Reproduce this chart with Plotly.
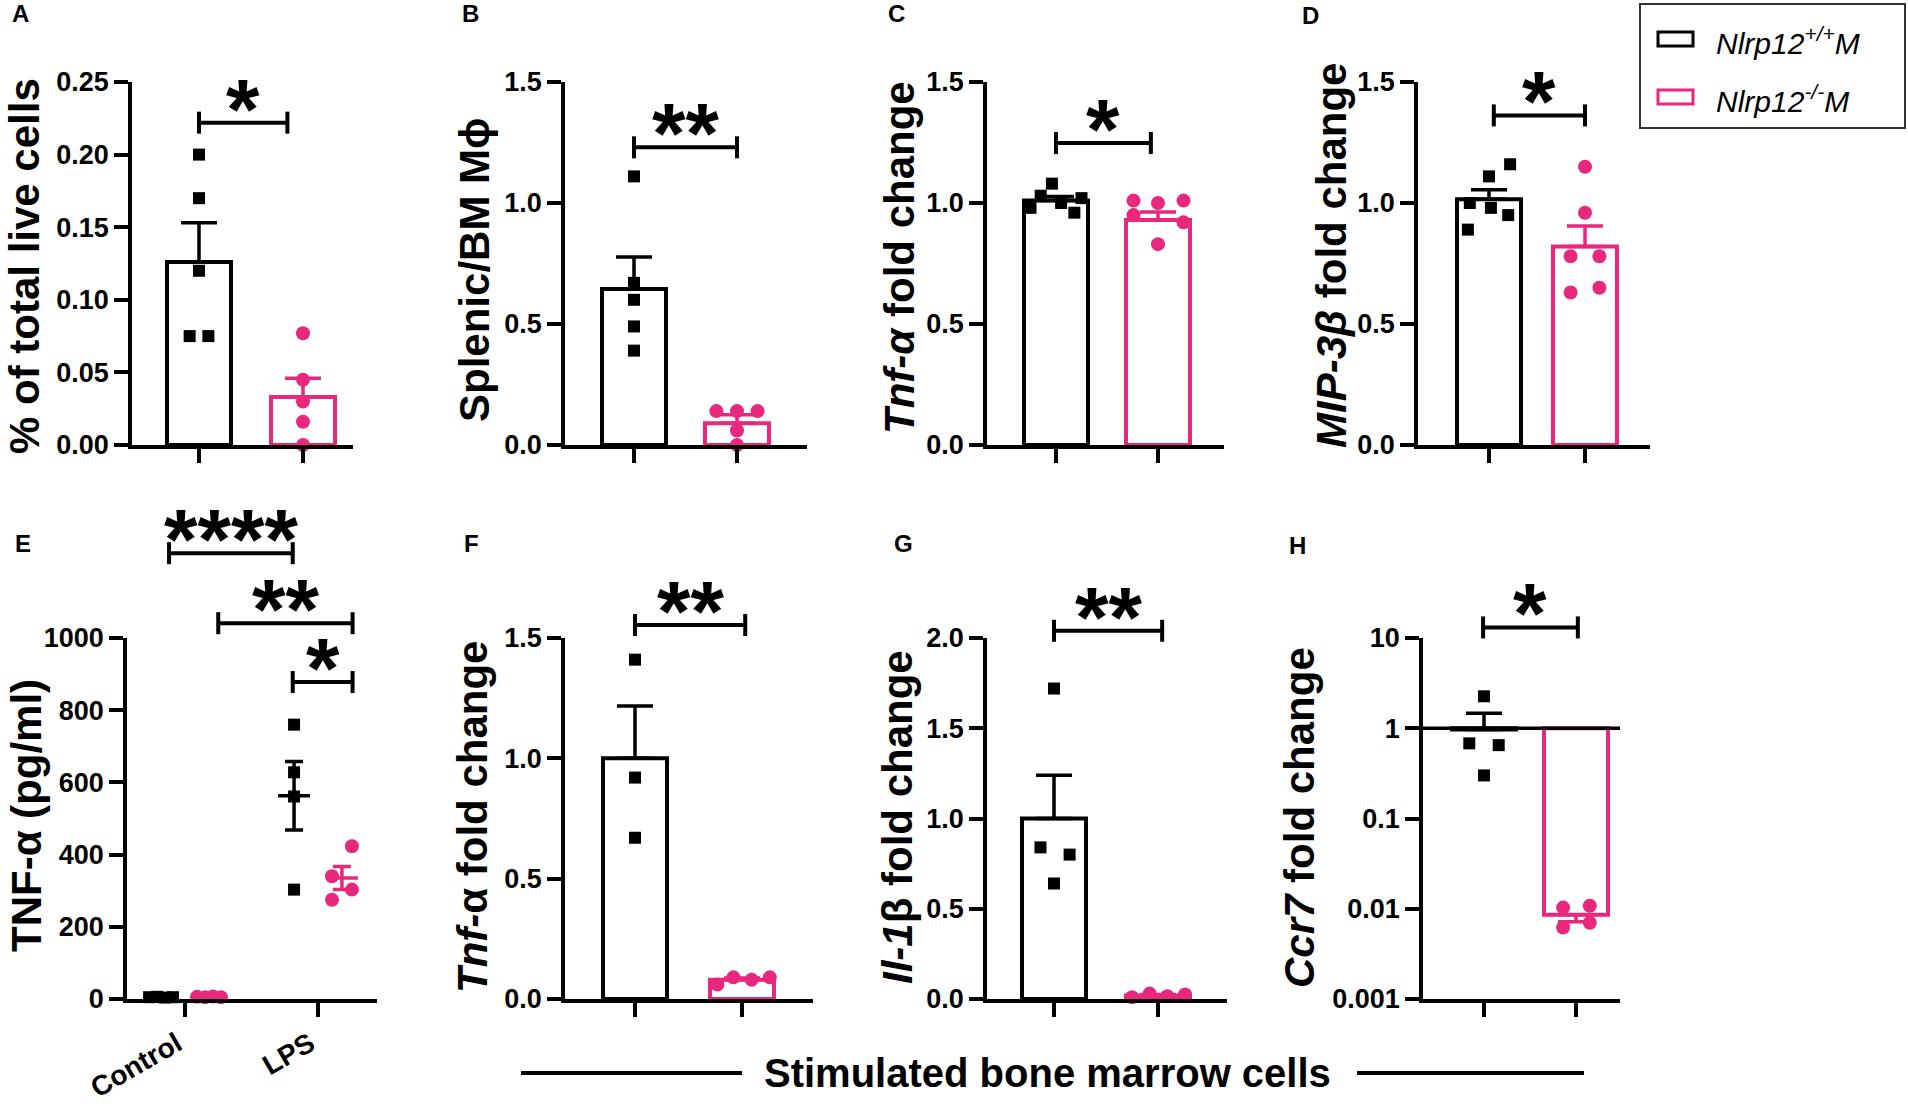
import math
import plotly.graph_objects as go

# ---------------- data ----------------
A_wt = [0.200, 0.170, 0.120, 0.075, 0.075]
A_ko = [0.077, 0.045, 0.030, 0.016, 0.000]
A_mean = [0.126, 0.033]
A_sem = [0.027, 0.013]

B_wt = [1.11, 0.67, 0.60, 0.49, 0.39]
B_ko = [0.14, 0.14, 0.14, 0.06, 0.00]
B_mean = [0.645, 0.090]
B_sem = [0.132, 0.035]

C_wt = [0.98, 1.03, 1.08, 1.00, 0.96, 1.02]
C_ko = [1.01, 1.00, 1.01, 0.95, 0.92, 0.83]
C_mean = [1.01, 0.93]
C_sem = [0.017, 0.033]

D_wt = [0.89, 1.00, 1.11, 0.98, 1.16, 0.95]
D_ko = [1.15, 0.96, 0.78, 0.78, 0.63, 0.65]
D_mean = [1.015, 0.82]
D_sem = [0.040, 0.085]

E_categories = ["Control", "LPS"]
E_ctrl_wt = [5, 6, 4, 5]
E_ctrl_ko = [6, 5, 7, 5]
E_lps_wt = [760, 628, 561, 303]
E_lps_ko = [423, 340, 303, 275]
E_mean_wt = [5, 563]
E_mean_ko = [6, 335]
E_sem_wt = [1, 95]
E_sem_ko = [1, 32]

F_wt = [1.41, 0.92, 0.67]
F_ko = [0.06, 0.09, 0.08, 0.09]
F_mean = [1.00, 0.08]
F_sem = [0.217, 0.007]

G_wt = [1.72, 0.84, 0.80, 0.64]
G_ko = [0.010, 0.030, 0.015, 0.025]
G_mean = [1.00, 0.02]
G_sem = [0.24, 0.005]

H_wt = [2.26, 0.68, 0.65, 0.30]
H_ko = [0.0103, 0.0108, 0.0062, 0.0070]
H_mean = [0.97, 0.0086]
H_sem = [0.50, 0.0014]

TICKS_A = [0, 0.05, 0.10, 0.15, 0.20, 0.25]
LABELS_A = ["0.00", "0.05", "0.10", "0.15", "0.20", "0.25"]
TICKS_15 = [0, 0.5, 1.0, 1.5]
LABELS_15 = ["0.0", "0.5", "1.0", "1.5"]
TICKS_E = [0, 200, 400, 600, 800, 1000]
LABELS_E = ["0", "200", "400", "600", "800", "1000"]
TICKS_G = [0, 0.5, 1.0, 1.5, 2.0]
LABELS_G = ["0.0", "0.5", "1.0", "1.5", "2.0"]
TICKS_H = [0.001, 0.01, 0.1, 1, 10]
LABELS_H = ["0.001", "0.01", "0.1", "1", "10"]

SIG_A = ["*"]
SIG_B = ["**"]
SIG_C = ["*"]
SIG_D = ["*"]
SIG_E = ["****", "**", "*"]
SIG_F = ["**"]
SIG_G = ["**"]
SIG_H = ["*"]

LEGEND_LABELS = ["<i>Nlrp12<sup>+/+</sup>M</i>", "<i>Nlrp12<sup>-/-</sup>M</i>"]
X_TITLE = "Stimulated bone marrow cells"

# ---------------- styling / geometry ----------------
W, HT = 1908, 1104
BLACK = "#000000"
PINK = "#E8287C"
FONT = "Liberation Sans, Arial, Helvetica, sans-serif"
LW = 3.5
BAR_PX = 64
ROWS = [(82, 445), (638, 999)]


def xp(px):
    return px / W


def yp(py):
    return 1 - py / HT


panels = [
    dict(key="A", n=1, row=0, ax0=132, ax1=353, t0=199, unit=104,
         wt=A_wt, ko=A_ko, mean=A_mean, sem=A_sem, yr=[0, 0.25],
         ticks=TICKS_A, labels=LABELS_A,
         dx=([0, 0, 0, -0.09, 0.09], [0, 0, 0, 0, 0]),
         sig=list(zip(SIG_A, [(0.0, 0.85, 0.222)])),
         title="<b>% of total live cells</b>", tx=25, ty=266, letter_x=10, letter_y=14),
    dict(key="B", n=2, row=0, ax0=565, ax1=807, t0=634, unit=103,
         wt=B_wt, ko=B_ko, mean=B_mean, sem=B_sem, yr=[0, 1.5],
         ticks=TICKS_15, labels=LABELS_15,
         dx=([0] * 5, [-0.2, 0, 0.2, 0, 0]),
         sig=list(zip(SIG_B, [(0.0, 1.0, 1.23)])),
         title="<b>Splenic/BM Mϕ</b>", tx=474, ty=270, letter_x=460, letter_y=14),
    dict(key="C", n=3, row=0, ax0=987, ax1=1224, t0=1056, unit=102,
         wt=C_wt, ko=C_ko, mean=C_mean, sem=C_sem, yr=[0, 1.5],
         ticks=TICKS_15, labels=LABELS_15,
         dx=([-0.25, -0.15, -0.04, 0.05, 0.18, 0.25], [-0.24, 0, 0.25, -0.24, 0.25, 0]),
         sig=list(zip(SIG_C, [(0.0, 0.93, 1.248)])),
         title="<b><i>Tnf-α</i> fold change</b>", tx=899, ty=258, letter_x=886, letter_y=14),
    dict(key="D", n=4, row=0, ax0=1418, ax1=1650, t0=1489, unit=96,
         wt=D_wt, ko=D_ko, mean=D_mean, sem=D_sem, yr=[0, 1.5],
         ticks=TICKS_15, labels=LABELS_15,
         dx=([-0.22, -0.20, 0, 0.02, 0.22, 0.20], [0, 0, -0.15, 0.15, -0.15, 0.15]),
         sig=list(zip(SIG_D, [(0.05, 1.0, 1.362)])),
         title="<b><i>MIP-3β</i> fold change</b>", tx=1331, ty=256, letter_x=1300, letter_y=16),
    dict(key="E", n=5, row=1, ax0=127, ax1=377, t0=185, unit=133,
         yr=[0, 1000], ticks=TICKS_E, labels=LABELS_E,
         sig=list(zip(SIG_E, [(-0.12, 0.81, 1235), (0.25, 1.26, 1041), (0.81, 1.26, 878)])),
         title="<b>TNF-α (pg/ml)</b>", tx=26, ty=816, letter_x=13, letter_y=543),
    dict(key="F", n=6, row=1, ax0=565, ax1=813, t0=635, unit=107,
         wt=F_wt, ko=F_ko, mean=F_mean, sem=F_sem, yr=[0, 1.5],
         ticks=TICKS_15, labels=LABELS_15,
         dx=([0, 0, 0], [-0.23, -0.08, 0.09, 0.26]),
         sig=list(zip(SIG_F, [(0.0, 1.03, 1.554)])),
         title="<b><i>Tnf-</i>α fold change</b>", tx=472, ty=817, letter_x=462, letter_y=543),
    dict(key="G", n=7, row=1, ax0=987, ax1=1227, t0=1054, unit=104,
         wt=G_wt, ko=G_ko, mean=G_mean, sem=G_sem, yr=[0, 2.0],
         ticks=TICKS_G, labels=LABELS_G,
         dx=([0, -0.13, 0.15, 0], [-0.25, -0.08, 0.09, 0.26]),
         sig=list(zip(SIG_G, [(0.0, 1.04, 2.04)])),
         title="<b><i>Il-1</i>β fold change</b>", tx=897, ty=817, letter_x=892, letter_y=543),
    dict(key="H", n=8, row=1, ax0=1423, ax1=1620, t0=1484, unit=92, log=True,
         wt=H_wt, ko=H_ko, mean=H_mean, sem=H_sem, yr=[-3, 1],
         ticks=TICKS_H, labels=LABELS_H,
         dx=([0, -0.16, 0.16, 0], [-0.14, 0.15, -0.14, 0.15]),
         sig=list(zip(SIG_H, [(-0.01, 1.02, 13.1)])),
         title="<b><i>Ccr7</i> fold change</b>", tx=1299, ty=818, letter_x=1287, letter_y=545),
]

fig = go.Figure()
shapes = []
annotations = []
layout_axes = {}


def ydom(p, v):
    lo, hi = p["yr"]
    if p.get("log"):
        return (math.log10(v) - lo) / (hi - lo)
    return (v - lo) / (hi - lo)


for p in panels:
    n = p["n"]
    s = "" if n == 1 else str(n)
    xa, ya = "x" + s, "y" + s
    row = ROWS[p["row"]]
    xr = [(p["ax0"] - p["t0"]) / p["unit"], (p["ax1"] - p["t0"]) / p["unit"]]
    is_e = p["key"] == "E"
    xax = dict(
        domain=[xp(p["ax0"]), xp(p["ax1"])], range=xr, anchor=ya,
        tickmode="array", tickvals=[0, 1],
        ticktext=E_categories if is_e else ["", ""],
        tickangle=-30 if is_e else 0,
        tickfont=dict(family=FONT, size=28, color=BLACK, weight="bold"),
        ticks="outside", ticklen=14, tickwidth=LW, tickcolor=BLACK,
        showline=True, linewidth=LW, linecolor=BLACK, automargin=False,
        showgrid=False, zeroline=False, fixedrange=True)
    if is_e:
        xax["ticklabelshift"] = -8
    layout_axes["xaxis" + s] = xax
    layout_axes["yaxis" + s] = dict(
        domain=[yp(row[1]), yp(row[0])], range=p["yr"], anchor=xa,
        type="log" if p.get("log") else "linear",
        tickmode="array", tickvals=p["ticks"], ticktext=p["labels"],
        tickfont=dict(family=FONT, size=27, color=BLACK, weight="bold"),
        ticks="outside", ticklen=14, tickwidth=LW, tickcolor=BLACK,
        showline=True, linewidth=LW, linecolor=BLACK, automargin=False,
        showgrid=False, zeroline=False, fixedrange=True)

    if not is_e:
        width = BAR_PX / p["unit"]
        for g, col, pts, dxs, sym, size in ((0, BLACK, p["wt"], p["dx"][0], "square", 12),
                                            (1, PINK, p["ko"], p["dx"][1], "circle", 14)):
            m = p["mean"][g]
            if p.get("log"):
                fig.add_trace(go.Bar(x=[g], y=[m - 1], base=[1], width=width, xaxis=xa, yaxis=ya,
                                     marker=dict(color="rgba(0,0,0,0)", line=dict(color=col, width=4)),
                                     showlegend=False, hoverinfo="skip"))
                # error bar drawn away from the baseline at 1
                up, dn = (p["sem"][g], 0) if g == 0 else (0, p["sem"][g])
            else:
                fig.add_trace(go.Bar(x=[g], y=[m], width=width, xaxis=xa, yaxis=ya,
                                     marker=dict(color="rgba(0,0,0,0)", line=dict(color=col, width=4)),
                                     showlegend=False, hoverinfo="skip"))
                up, dn = p["sem"][g], 0
            fig.add_trace(go.Scatter(x=[g], y=[m], mode="markers", xaxis=xa, yaxis=ya,
                                     marker=dict(size=1, opacity=0),
                                     error_y=dict(type="data", symmetric=False, array=[up], arrayminus=[dn],
                                                  width=18, thickness=LW, color=col),
                                     showlegend=False, hoverinfo="skip"))
            fig.add_trace(go.Scatter(x=[g + d for d in dxs], y=pts, mode="markers", xaxis=xa, yaxis=ya,
                                     marker=dict(symbol=sym, size=size, color=col, line=dict(width=0)),
                                     cliponaxis=False, showlegend=False, hoverinfo="skip"))
    else:
        groups = [
            (0 - 0.18, BLACK, "square", 12, E_ctrl_wt, [-0.09, -0.03, 0.03, 0.09], E_mean_wt[0], E_sem_wt[0]),
            (0 + 0.18, PINK, "circle", 14, E_ctrl_ko, [-0.09, -0.03, 0.03, 0.09], E_mean_ko[0], E_sem_ko[0]),
            (1 - 0.18, BLACK, "square", 12, E_lps_wt, [0, 0, 0, 0], E_mean_wt[1], E_sem_wt[1]),
            (1 + 0.18, PINK, "circle", 14, E_lps_ko, [0.075, -0.075, 0.075, -0.075], E_mean_ko[1], E_sem_ko[1]),
        ]
        for c, col, sym, size, pts, dxs, m, se in groups:
            fig.add_trace(go.Scatter(x=[c + d for d in dxs], y=pts, mode="markers", xaxis=xa, yaxis=ya,
                                     marker=dict(symbol=sym, size=size, color=col, line=dict(width=0)),
                                     cliponaxis=False, showlegend=False, hoverinfo="skip"))
            fig.add_trace(go.Scatter(x=[c - 0.12, c + 0.12], y=[m, m], mode="lines", xaxis=xa, yaxis=ya,
                                     line=dict(color=col, width=LW), showlegend=False, hoverinfo="skip"))
            fig.add_trace(go.Scatter(x=[c], y=[m], mode="markers", xaxis=xa, yaxis=ya,
                                     marker=dict(size=1, opacity=0),
                                     error_y=dict(type="data", array=[se], width=9, thickness=LW, color=col),
                                     showlegend=False, hoverinfo="skip"))

    if p.get("log"):
        shapes.append(dict(type="line", xref=xa + " domain", yref=ya, x0=0, x1=1, y0=1, y1=1,
                           line=dict(color=BLACK, width=LW)))

    cap = 11 / (row[1] - row[0])
    for text, (x0, x1, yv) in p["sig"]:
        yd = ydom(p, yv)
        for (a0, b0, a1, b1) in ((x0, yd, x1, yd), (x0, yd - cap, x0, yd + cap), (x1, yd - cap, x1, yd + cap)):
            shapes.append(dict(type="line", xref=xa, yref=ya + " domain", x0=a0, x1=a1, y0=b0, y1=b1,
                               line=dict(color=BLACK, width=4)))
        annotations.append(dict(xref=xa, yref=ya + " domain", x=(x0 + x1) / 2, y=yd, yshift=14,
                                text="<b>%s</b>" % text, showarrow=False, xanchor="center", yanchor="middle",
                                font=dict(family=FONT, size=86, color=BLACK)))

    annotations.append(dict(xref="paper", yref="paper", x=xp(p["tx"]), y=yp(p["ty"]), text=p["title"],
                            textangle=-90, showarrow=False, xanchor="center", yanchor="middle",
                            font=dict(family=FONT, size=42, color=BLACK)))
    annotations.append(dict(xref="paper", yref="paper", x=xp(p["letter_x"]), y=yp(p["letter_y"]),
                            text="<b>%s</b>" % p["key"], showarrow=False, xanchor="left", yanchor="middle",
                            font=dict(family=FONT, size=24, color=BLACK)))

# bottom label with side lines
annotations.append(dict(xref="paper", yref="paper", x=xp(1047), y=yp(1073), text="<b>%s</b>" % X_TITLE,
                        showarrow=False, xanchor="center", yanchor="middle",
                        font=dict(family=FONT, size=40, color=BLACK)))
for a, b in ((521, 742), (1357, 1584)):
    shapes.append(dict(type="line", xref="paper", yref="paper", x0=xp(a), x1=xp(b), y0=yp(1073), y1=yp(1073),
                       line=dict(color=BLACK, width=4)))

# legend box
shapes.append(dict(type="rect", xref="paper", yref="paper", x0=xp(1640), x1=xp(1905), y0=yp(128), y1=yp(4),
                   line=dict(color="#333333", width=2), fillcolor="rgba(0,0,0,0)"))
for (cy, col, lab) in ((39, BLACK, LEGEND_LABELS[0]), (97, PINK, LEGEND_LABELS[1])):
    shapes.append(dict(type="rect", xref="paper", yref="paper", x0=xp(1658), x1=xp(1693),
                       y0=yp(cy + 7), y1=yp(cy - 7), line=dict(color=col, width=3), fillcolor="white"))
    annotations.append(dict(xref="paper", yref="paper", x=xp(1714), y=yp(cy + 2), text=lab, showarrow=False,
                            xanchor="left", yanchor="middle", font=dict(family=FONT, size=30, color=BLACK)))

fig.update_layout(
    width=W, height=HT, margin=dict(l=0, r=0, t=0, b=0, pad=0, autoexpand=False),
    paper_bgcolor="white", plot_bgcolor="white",
    barmode="overlay", showlegend=False,
    shapes=shapes, annotations=annotations,
    **layout_axes)

fig.write_html("out.html", config={"displayModeBar": False},
               post_script="document.body.style.margin='0';")
